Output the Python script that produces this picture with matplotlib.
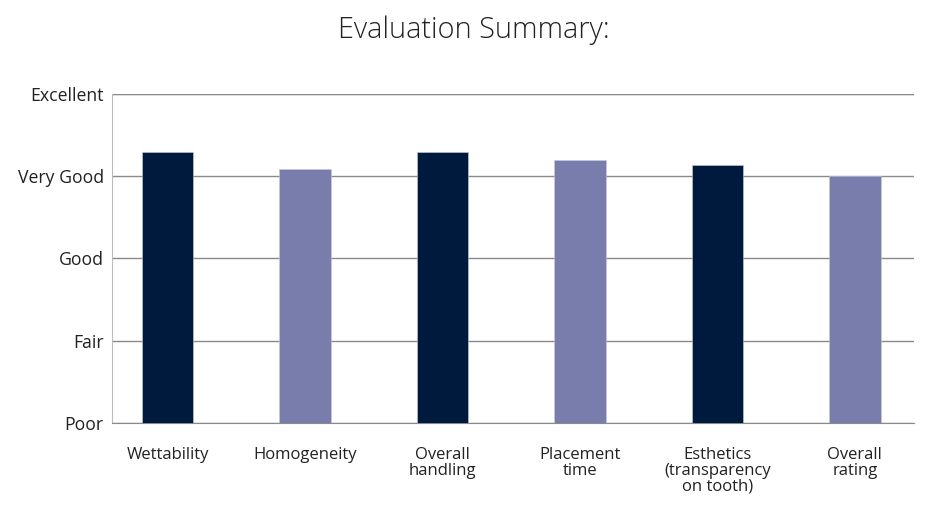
import numpy as np
import matplotlib.pyplot as plt

categories = ["Wettability", "Homogeneity", "Overall\nhandling", "Placement\ntime",
              "Esthetics\n(transparency\non tooth)", "Overall\nrating"]
scores = [3.3, 3.09, 3.3, 3.2, 3.14, 3.0]
level_labels = ["Poor", "Fair", "Good", "Very Good", "Excellent"]
bar_colors = ["#001a3e", "#797dab", "#001a3e", "#797dab", "#001a3e", "#797dab"]

plt.rcParams['font.family'] = ['Open Sans', 'DejaVu Sans']

fig = plt.figure(figsize=(9.29, 5.05), dpi=100)
ax = fig.add_axes([0.1206, 0.1624, 0.8632, 0.6515])

x = np.arange(len(categories))
ax.bar(x, scores, width=0.375, color=bar_colors, edgecolor="#c8cce0", linewidth=0.4, zorder=3)

ax.set_ylim(0, 4)
ax.set_xlim(-0.405, 5.43)
ax.set_yticks(range(len(level_labels)))
ax.set_yticklabels(level_labels, fontsize=12.7, color="#222222")
ax.set_xticks(x)
ax.set_xticklabels(categories, fontsize=12, color="#222222", linespacing=0.98)
ax.tick_params(axis="y", length=0, pad=6)
ax.tick_params(axis="x", length=0, pad=17.5)

ax.grid(axis="y", color="#8a8a8a", linewidth=1.0, zorder=0)
for s in ["top", "right"]:
    ax.spines[s].set_visible(False)
ax.spines["left"].set_color("#bbbbbb")
ax.spines["bottom"].set_color("#8a8a8a")
ax.axhline(4, color="#b5b5b5", linewidth=1.0, zorder=1)

fig.text(0.51, 0.94, "Evaluation Summary:", ha="center", va="center",
         fontsize=20.8, color="#222222", fontweight="light")

fig.savefig("out.png", dpi=100)
